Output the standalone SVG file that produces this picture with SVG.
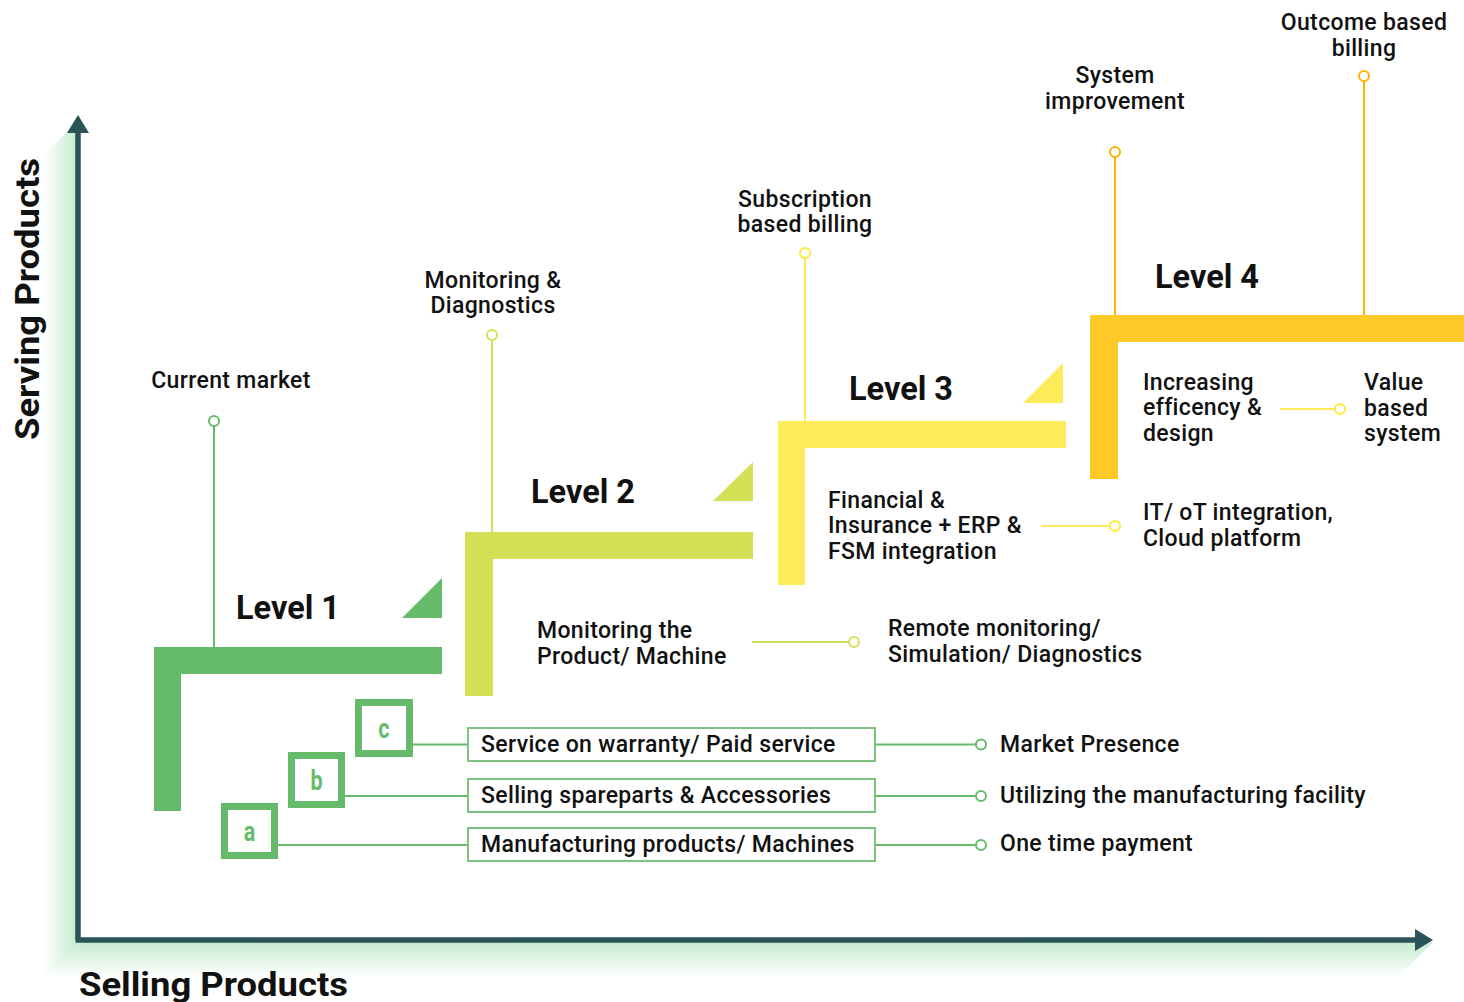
<svg xmlns="http://www.w3.org/2000/svg" width="1464" height="1002" viewBox="0 0 1464 1002">
  <defs>
    <linearGradient id="glowV" x1="44" y1="0" x2="77" y2="0" gradientUnits="userSpaceOnUse">
      <stop offset="0" stop-color="#c4ebcf" stop-opacity="0"/>
      <stop offset="1" stop-color="#c4ebcf" stop-opacity="1"/>
    </linearGradient>
    <linearGradient id="glowH" x1="0" y1="942" x2="0" y2="977" gradientUnits="userSpaceOnUse">
      <stop offset="0" stop-color="#c4ebcf" stop-opacity="1"/>
      <stop offset="1" stop-color="#c4ebcf" stop-opacity="0"/>
    </linearGradient>
    <style>
      text { font-family: Roboto, "Liberation Sans", sans-serif; fill: #111; }
      .lbl { font-size: 23px; font-weight: 500; letter-spacing: 0.35px; }
      .mid { text-anchor: middle; }
      .lvl { font-size: 33px; font-weight: 700; }
      .axisT { font-size: 34px; font-weight: 700; }
      .letter { font-size: 27px; font-weight: 700; fill: #66bb6a; text-anchor: middle; }
      .g1 { fill: #66bb6a; }
      .g2 { fill: #d4e157; }
      .g3 { fill: #ffeb59; }
      .g4 { fill: #ffca28; }
      .s1 { stroke: #66bb6a; stroke-width: 2; fill: none; }
      .s2 { stroke: #d4e157; stroke-width: 2; fill: none; }
      .s3 { stroke: #ffeb59; stroke-width: 2; fill: none; }
      .s4 { stroke: #ffb300; stroke-width: 2; fill: none; }
      .dot1 { stroke: #66bb6a; stroke-width: 2; fill: #fff; }
      .dot2 { stroke: #d4e157; stroke-width: 2; fill: #fff; }
      .dot3 { stroke: #ffeb3b; stroke-width: 2; fill: #fff; }
      .dot4 { stroke: #ffb300; stroke-width: 2; fill: #fff; }
      .box { stroke: #7cc47f; stroke-width: 2; fill: #fff; }
      .sq { stroke: #66bb6a; stroke-width: 7; fill: #fff; }
    </style>
  </defs>

  <rect width="1464" height="1002" fill="#fff"/>

  <!-- axes with soft green long shadow -->
  <g id="axes">
    <polygon points="77,122 77,942 44,975 44,155" fill="url(#glowV)"/>
    <polygon points="77,942 1433,942 1398,977 44,977 44,975" fill="url(#glowH)"/>
    <line x1="78" y1="940" x2="78" y2="130" stroke="#2b5459" stroke-width="5.5"/>
    <polygon points="78,115 89,133 67,133" fill="#2b5459"/>
    <line x1="75.5" y1="940" x2="1418" y2="940" stroke="#2b5459" stroke-width="5.5"/>
    <polygon points="1433,940 1415,929 1415,951" fill="#2b5459"/>
    <text class="axisT" transform="translate(39,299) rotate(-90)" text-anchor="middle" textLength="282" lengthAdjust="spacingAndGlyphs">Serving Products</text>
    <text class="axisT" x="79" y="996" textLength="269" lengthAdjust="spacingAndGlyphs">Selling Products</text>
  </g>

  <!-- connectors -->
  <g id="connectors">
    <line class="s1" x1="214" y1="426" x2="214" y2="647"/>
    <line class="s2" x1="492" y1="340" x2="492" y2="532"/>
    <line class="s3" x1="805" y1="258" x2="805" y2="421"/>
    <line class="s4" x1="1115" y1="157" x2="1115" y2="315"/>
    <line class="s4" x1="1364" y1="81" x2="1364" y2="315"/>
    <line class="s2" x1="752" y1="642" x2="849" y2="642"/>
    <line class="s3" x1="1041" y1="526" x2="1110" y2="526"/>
    <line class="s3" x1="1280" y1="409" x2="1335" y2="409"/>
    <line class="s1" x1="413" y1="744.5" x2="468" y2="744.5"/>
    <line class="s1" x1="345" y1="796" x2="468" y2="796"/>
    <line class="s1" x1="278" y1="845" x2="468" y2="845"/>
    <line class="s1" x1="875" y1="744.5" x2="976" y2="744.5"/>
    <line class="s1" x1="875" y1="796" x2="976" y2="796"/>
    <line class="s1" x1="875" y1="845" x2="976" y2="845"/>
    <circle class="dot1" cx="214" cy="421" r="5"/>
    <circle class="dot2" cx="492" cy="335" r="5"/>
    <circle class="dot3" cx="805" cy="253" r="5"/>
    <circle class="dot4" cx="1115" cy="152" r="5"/>
    <circle class="dot4" cx="1364" cy="76" r="5"/>
    <circle class="dot2" cx="854" cy="642" r="5"/>
    <circle class="dot3" cx="1115" cy="526" r="5"/>
    <circle class="dot3" cx="1340" cy="409" r="5"/>
    <circle class="dot1" cx="981" cy="744.5" r="5"/>
    <circle class="dot1" cx="981" cy="796" r="5"/>
    <circle class="dot1" cx="981" cy="845" r="5"/>
  </g>

  <!-- Level 1 -->
  <g id="level1">
    <path class="g1" d="M154,647 H442 V674 H181 V811 H154 Z"/>
    <polygon class="g1" points="402,618 442,618 442,578"/>
    <text class="lvl" x="236" y="619" textLength="104" lengthAdjust="spacingAndGlyphs">Level 1</text>
    <text class="lbl mid" x="231" y="388">Current market</text>
  </g>

  <!-- Level 2 -->
  <g id="level2">
    <path class="g2" d="M465,532 H753 V559 H493 V696 H465 Z"/>
    <polygon class="g2" points="713,501 753,501 753,462"/>
    <text class="lvl" x="531" y="503" textLength="104" lengthAdjust="spacingAndGlyphs">Level 2</text>
    <text class="lbl mid" x="493" y="288">Monitoring &amp;</text>
    <text class="lbl mid" x="493" y="313">Diagnostics</text>
    <text class="lbl" x="537" y="638">Monitoring the</text>
    <text class="lbl" x="537" y="664">Product/ Machine</text>
    <text class="lbl" x="888" y="636">Remote monitoring/</text>
    <text class="lbl" x="888" y="662">Simulation/ Diagnostics</text>
  </g>

  <!-- Level 3 -->
  <g id="level3">
    <path class="g3" d="M778,421 H1066 V448 H805 V585 H778 Z"/>
    <polygon class="g3" points="1023,403 1063,403 1063,363"/>
    <text class="lvl" x="849" y="400" textLength="104" lengthAdjust="spacingAndGlyphs">Level 3</text>
    <text class="lbl mid" x="805" y="207">Subscription</text>
    <text class="lbl mid" x="805" y="232">based billing</text>
    <text class="lbl" x="828" y="508">Financial &amp;</text>
    <text class="lbl" x="828" y="533">Insurance + ERP &amp;</text>
    <text class="lbl" x="828" y="559">FSM integration</text>
    <text class="lbl" x="1143" y="520">IT/ oT integration,</text>
    <text class="lbl" x="1143" y="546">Cloud platform</text>
  </g>

  <!-- Level 4 -->
  <g id="level4">
    <path class="g4" d="M1090,315 H1464 V342 H1118 V479 H1090 Z"/>
    <text class="lvl" x="1155" y="288" textLength="104" lengthAdjust="spacingAndGlyphs">Level 4</text>
    <text class="lbl mid" x="1115" y="83">System</text>
    <text class="lbl mid" x="1115" y="109">improvement</text>
    <text class="lbl mid" x="1364" y="30">Outcome based</text>
    <text class="lbl mid" x="1364" y="56">billing</text>
    <text class="lbl" x="1143" y="390">Increasing</text>
    <text class="lbl" x="1143" y="415">efficency &amp;</text>
    <text class="lbl" x="1143" y="441">design</text>
    <text class="lbl" x="1364" y="390">Value</text>
    <text class="lbl" x="1364" y="416">based</text>
    <text class="lbl" x="1364" y="441">system</text>
  </g>

  <!-- selling tiers a, b, c -->
  <g id="tier-a">
    <rect class="sq" x="224.5" y="806.5" width="50" height="49"/>
    <text class="letter" x="249.5" y="841" transform="translate(249.5 0) scale(0.8 1) translate(-249.5 0)">a</text>
    <rect class="box" x="468" y="828" width="407" height="33"/>
    <text class="lbl" x="481" y="852">Manufacturing products/ Machines</text>
    <text class="lbl" x="1000" y="851">One time payment</text>
  </g>
  <g id="tier-b">
    <rect class="sq" x="291.5" y="755.5" width="50" height="49"/>
    <text class="letter" x="316.5" y="790" transform="translate(316.5 0) scale(0.8 1) translate(-316.5 0)">b</text>
    <rect class="box" x="468" y="779" width="407" height="33"/>
    <text class="lbl" x="481" y="803">Selling spareparts &amp; Accessories</text>
    <text class="lbl" x="1000" y="803">Utilizing the manufacturing facility</text>
  </g>
  <g id="tier-c">
    <rect class="sq" x="358.5" y="702.5" width="51" height="51"/>
    <text class="letter" x="384" y="738" transform="translate(384 0) scale(0.8 1) translate(-384 0)">c</text>
    <rect class="box" x="468" y="728" width="407" height="33"/>
    <text class="lbl" x="481" y="752">Service on warranty/ Paid service</text>
    <text class="lbl" x="1000" y="752">Market Presence</text>
  </g>
</svg>
